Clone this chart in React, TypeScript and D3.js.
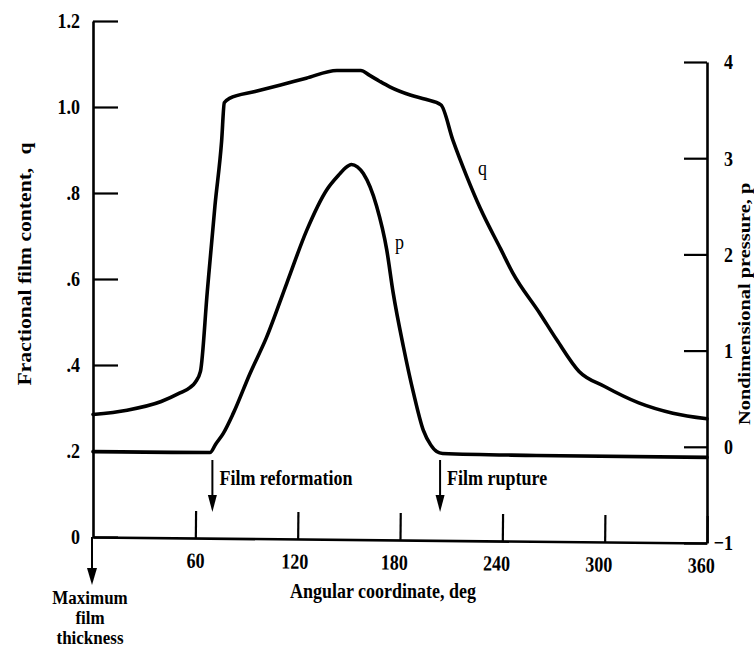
import { useEffect, useRef } from 'react';
import * as d3 from 'd3';

// fractional film content q (left axis) vs angle, deg
const qDeg = [0, 20, 40, 51, 57, 60, 63, 67, 71.5, 75.4, 77, 80, 95, 110, 125, 143, 157, 162, 168, 174, 186, 195, 204, 211, 219, 227, 239, 246, 262, 272, 285, 300, 320, 340, 360];
const qVal = [0.285, 0.295, 0.315, 0.335, 0.348, 0.36, 0.385, 0.57, 0.77, 0.92, 1.01, 1.02, 1.036, 1.051, 1.067, 1.085, 1.085, 1.074, 1.06, 1.047, 1.028, 1.018, 1.005, 0.923, 0.84, 0.765, 0.67, 0.615, 0.52, 0.458, 0.385, 0.35, 0.312, 0.288, 0.275];

// nondimensional pressure p (right axis) vs angle, deg
const pDeg = [0, 30, 68.6, 72, 76.4, 82.3, 92, 101.8, 113.6, 125.3, 137, 144.8, 148, 151.5, 155, 158.5, 166.3, 172.2, 176, 182, 187.9, 193.7, 198, 201.5, 205, 260, 360];
const pVal = [-0.05, -0.055, -0.06, 0.03, 0.14, 0.35, 0.76, 1.14, 1.7, 2.25, 2.67, 2.84, 2.9, 2.935, 2.91, 2.84, 2.5, 2.05, 1.6, 1.04, 0.56, 0.17, 0.02, -0.05, -0.07, -0.09, -0.11];

const qTicks = [0, 0.2, 0.4, 0.6, 0.8, 1.0, 1.2];
const pTicks = [-1, 0, 1, 2, 3, 4];
const degTicks = [60, 120, 180, 240, 300, 360];
const noteLabels = ['Film reformation', 'Film rupture'];
const noteDeg = [70, 203.5];
const maxLines = ['Maximum', 'film', 'thickness'];

const W = 754;
const H = 650;
const FONT = '"Liberation Serif", "Times New Roman", serif';
const SY = 1.2; // the scan is stretched a bit vertically

const fmtQ = (d: any) => (d === 0 ? '0' : d >= 1 ? d.toFixed(1) : d.toFixed(1).slice(1));

const App = () => {
  const svgRef = useRef<any>(null);

  useEffect(() => {
    const svg = d3.select(svgRef.current);
    svg.selectAll('*').remove();

    const x = d3.scaleLinear().domain([0, 360]).range([93, 707]);
    const yQ = d3.scaleLinear().domain([0, 1.2]).range([537, 21]);
    const yP = d3.scaleLinear().domain([-1, 4]).range([543, 62]);

    const g = svg.append('g').attr('font-family', FONT).attr('font-weight', 'bold').attr('fill', '#000');

    const styleAxis = (ax: any) => {
      ax.attr('font-family', FONT).attr('font-size', 18).attr('font-weight', 'bold');
      ax.select('.domain').attr('stroke', '#000').attr('stroke-width', 2.6);
      ax.selectAll('.tick line').attr('stroke', '#000').attr('stroke-width', 2.2);
      ax.selectAll('.tick text').attr('fill', '#000').attr('transform', `scale(1,${SY})`);
    };

    // left axis (q)
    const axL = g.append('g')
      .attr('transform', `translate(${x(0)},0)`)
      .call(d3.axisLeft(yQ).tickValues(qTicks).tickSizeInner(-25).tickSizeOuter(0).tickPadding(13).tickFormat(fmtQ) as any);
    styleAxis(axL);

    // right axis (p)
    const axR = g.append('g')
      .attr('transform', `translate(${x(360)},0)`)
      .call(d3.axisRight(yP).tickValues(pTicks).tickSizeInner(-23).tickSizeOuter(0).tickPadding(4).tickFormat(d3.format('d')) as any);
    styleAxis(axR);
    axR.selectAll('.tick text').attr('text-anchor', 'end').attr('x', 26);

    // bottom axis, slightly tilted like the scan
    const tilt = (Math.atan2(yP(-1) - yQ(0), x(360) - x(0)) * 180) / Math.PI;
    const axB = g.append('g')
      .attr('transform', `translate(${x(0)},${yQ(0)}) rotate(${tilt}) translate(${-x(0)},0)`)
      .call(d3.axisBottom(x).tickValues(degTicks).tickSizeInner(-27).tickSizeOuter(0).tickPadding(12) as any);
    styleAxis(axB);
    axB.selectAll('.tick text').attr('x', (d: any) => (d >= 180 ? -6 : d >= 120 ? -3 : 0));

    // curves
    const lineQ = d3.line<number>().x((d, i) => x(qDeg[i])).y((d) => yQ(d)).curve(d3.curveMonotoneX);
    const lineP = d3.line<number>().x((d, i) => x(pDeg[i])).y((d) => yP(d)).curve(d3.curveMonotoneX);
    [lineQ(qVal), lineP(pVal)].forEach((dd) => {
      g.append('path')
        .attr('d', dd)
        .attr('fill', 'none')
        .attr('stroke', '#000')
        .attr('stroke-width', 3.6)
        .attr('stroke-linejoin', 'round')
        .attr('stroke-linecap', 'round');
    });

    const arrow = (ax: number, y0: number, y1: number, hw: number, hl: number) => {
      g.append('line')
        .attr('x1', ax).attr('x2', ax).attr('y1', y0).attr('y2', y1 - hl + 2)
        .attr('stroke', '#000').attr('stroke-width', 2);
      g.append('path')
        .attr('d', `M${ax - hw},${y1 - hl}L${ax + hw},${y1 - hl}L${ax},${y1}Z`)
        .attr('fill', '#000');
    };

    const txt = (s: string, tx: number, ty: number, anchor: string, size = 18, weight = 'bold', sy = SY) => {
      g.append('text')
        .attr('transform', `translate(${tx},${ty}) scale(1,${sy})`)
        .attr('text-anchor', anchor)
        .attr('font-size', size)
        .attr('font-weight', weight)
        .text(s);
    };

    // film reformation / rupture notes
    noteDeg.forEach((d, i) => {
      arrow(x(d), 460, 512, 4.5, 17);
      txt(noteLabels[i], x(d) + 7, 485, 'start');
    });

    // maximum film thickness marker
    arrow(x(0) - 1, yQ(0), 585, 5, 17);
    maxLines.forEach((s, i) => txt(s, x(0) - 3, 604 + i * 20, 'middle', 17, 'bold', 1.12));

    // curve labels
    txt('q', 478, 175, 'start', 18, 'normal');
    txt('p', 395, 249, 'start', 18, 'normal');

    // axis titles
    txt('Angular coordinate, deg', 383, 598, 'middle');

    const tl = g.append('text')
      .attr('transform', `translate(31,264) scale(1,${SY}) rotate(-90)`)
      .attr('text-anchor', 'middle')
      .attr('font-size', 18);
    tl.append('tspan').text('Fractional film content,');
    tl.append('tspan').attr('dx', 11).text('q');

    g.append('text')
      .attr('transform', `translate(750,425) scale(1,${SY}) rotate(-90)`)
      .attr('text-anchor', 'start')
      .attr('font-size', 17)
      .text('Nondimensional pressure, p');
  }, []);

  return (
    <svg
      ref={svgRef}
      width={W}
      height={H}
      style={{ position: 'absolute', left: 0, top: 0, background: '#fff' }}
    />
  );
};

export default App;
